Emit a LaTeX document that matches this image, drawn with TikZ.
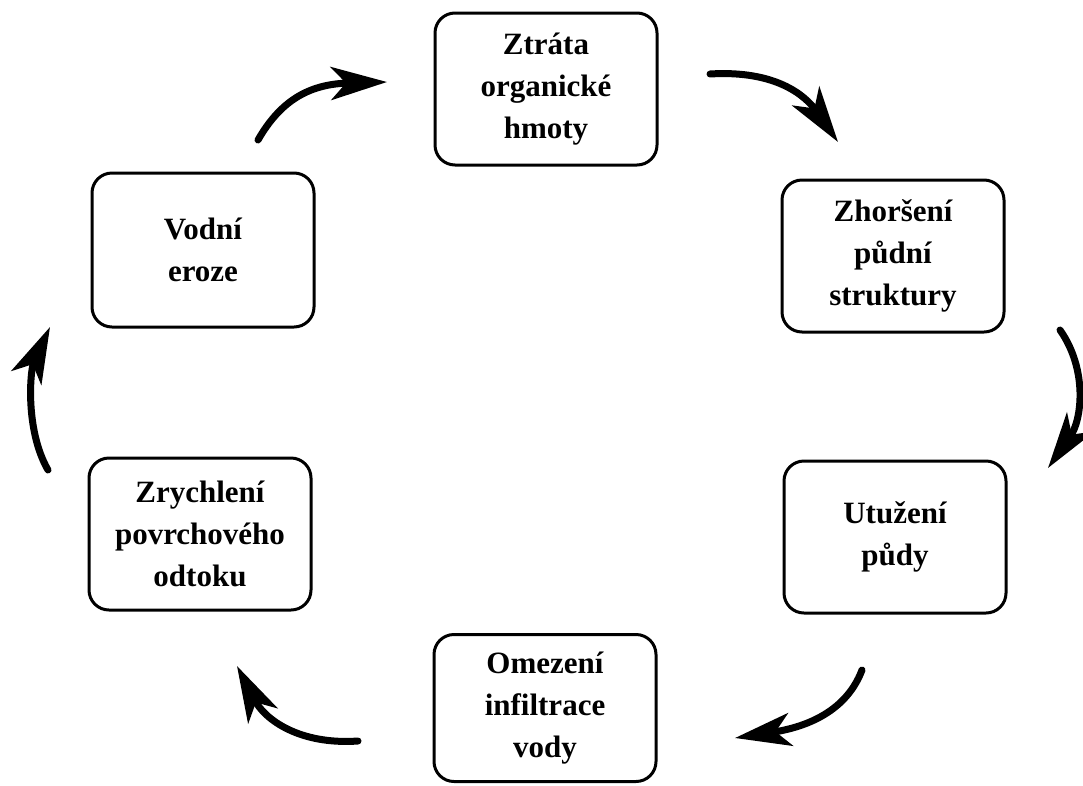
\documentclass[tikz,border=0pt]{standalone}
\usepackage{fontspec}
\setmainfont{Liberation Serif}
\usetikzlibrary{arrows.meta}
\begin{document}
\begin{tikzpicture}[x=1pt,y=-1pt,
  box/.style={draw=black,line width=3pt,rounded corners=20pt,fill=white,
    minimum width=222pt,minimum height=152pt,align=center,inner sep=0pt,
    font=\bfseries\fontsize{31}{42}\selectfont},
  cyc/.style={line width=7pt,line cap=round,
    -{Stealth[length=56pt,width=33pt,inset=15pt]}}]
\useasboundingbox[fill=white] (0,0) rectangle (1083,785);
\node[box] (A) at (546,89) {Ztráta\\organické\\hmoty};
\node[box] (B) at (893,256) {Zhoršení\\půdní\\struktury};
\node[box] (C) at (895,537) {Utužení\\půdy};
\node[box,minimum height=147pt] (D) at (545,708) {Omezení\\infiltrace\\vody};
\node[box] (E) at (200,534) {Zrychlení\\povrchového\\odtoku};
\node[box,minimum height=154pt] (F) at (203,250) {Vodní\\eroze};
\coordinate (a1) at (258,140); \coordinate (a2) at (387,82);
\coordinate (b1) at (710,74);  \coordinate (b2) at (838,142);
\coordinate (c1) at (1060,330); \coordinate (c2) at (1048,468);
\coordinate (d1) at (862,670); \coordinate (d2) at (735,738);
\coordinate (e1) at (358,741); \coordinate (e2) at (237,666);
\coordinate (f1) at (48,470);  \coordinate (f2) at (50,327);
\draw[cyc] (a1) .. controls (282,98) and (312,84) .. (a2);
\draw[cyc] (b1) .. controls (775,70) and (805,95) .. (b2);
\draw[cyc] (c1) .. controls (1088,370) and (1082,420) .. (c2);
\draw[cyc] (d1) .. controls (845,715) and (800,728) .. (d2);
\draw[cyc] (e1) .. controls (300,745) and (265,720) .. (e2);
\draw[cyc] (f1) .. controls (25,430) and (30,370) .. (f2);
\end{tikzpicture}
\end{document}
